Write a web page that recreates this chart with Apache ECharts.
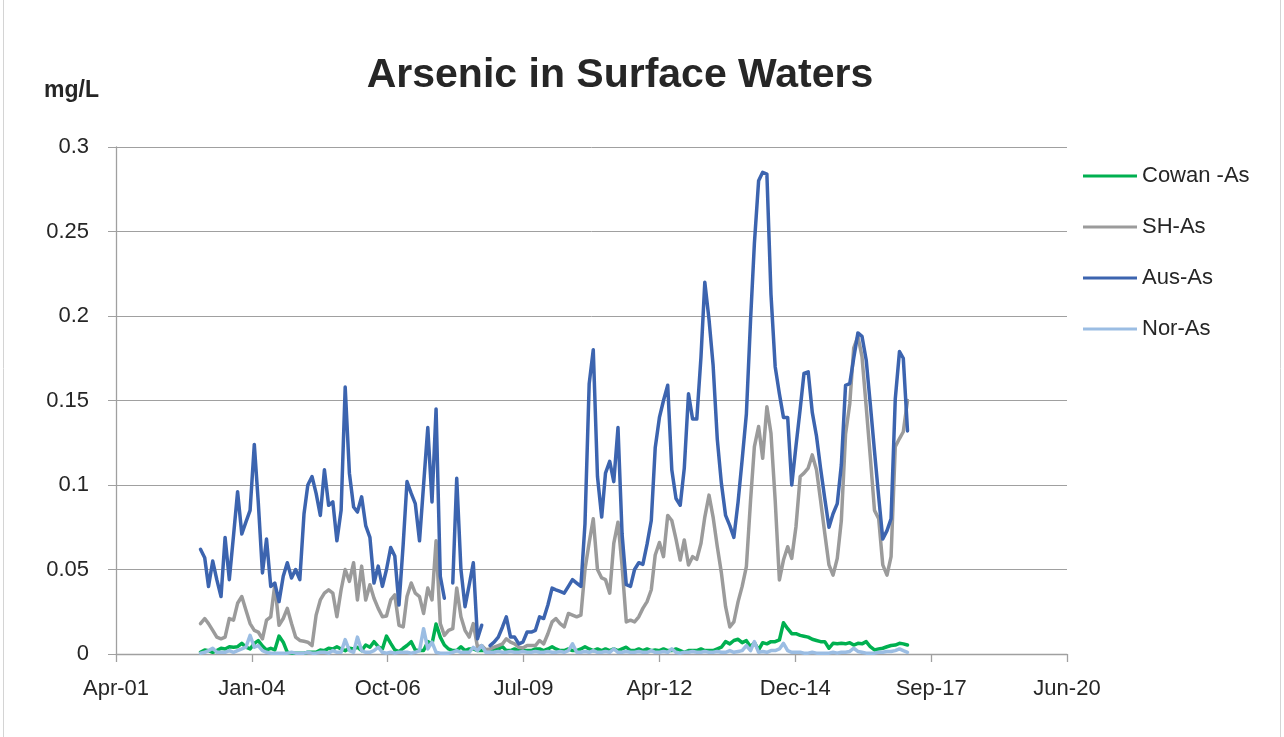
<!DOCTYPE html>
<html>
<head>
<meta charset="utf-8">
<script src="https://cdn.jsdelivr.net/npm/echarts@6/dist/echarts.min.js"></script>
<style>
html, body { margin: 0; padding: 0; background: #fff; }
#chart { width: 1284px; height: 737px; }
</style>
</head>
<body>
<div id="chart"></div>
<script>
// monthly samples, first one is Jan 2003
const startYear = 2003;

const cowan = [
  0.001, 0.0024, 0.002, 0.001, 0.002, 0.0034, 0.003, 0.0043, 0.004, 0.0043,
  0.0063, 0.004, 0.003, 0.0063, 0.0079, 0.0047, 0.0024, 0.0034, 0.0024, 0.0106,
  0.007, 0.001, 0.0005, 0.0005, 0.0005, 0.0005, 0.001, 0.001, 0.001, 0.0024,
  0.002, 0.0034, 0.003, 0.0043, 0.003, 0.002, 0.0034, 0.003, 0.004, 0.002,
  0.0053, 0.004, 0.0073, 0.0043, 0.003, 0.0106, 0.0063, 0.0024, 0.0014, 0.0034,
  0.005, 0.0073, 0.0024, 0.002, 0.002, 0.0073, 0.006, 0.0178, 0.010, 0.0053,
  0.003, 0.002, 0.002, 0.0043, 0.002, 0.003, 0.003, 0.002, 0.002, 0.002,
  0.002, 0.003, 0.003, 0.0043, 0.002, 0.002, 0.003, 0.002, 0.002, 0.002,
  0.002, 0.003, 0.003, 0.002, 0.003, 0.0043, 0.003, 0.002, 0.002, 0.003,
  0.002, 0.002, 0.003, 0.0043, 0.003, 0.002, 0.003, 0.002, 0.003, 0.002,
  0.003, 0.002, 0.003, 0.004, 0.002, 0.002, 0.003, 0.002, 0.003, 0.002,
  0.0024, 0.002, 0.003, 0.002, 0.002, 0.003, 0.002, 0.001, 0.002, 0.002,
  0.002, 0.003, 0.002, 0.002, 0.002, 0.003, 0.004, 0.0073, 0.006, 0.008,
  0.0087, 0.0067, 0.0079, 0.0043, 0.0067, 0.0024, 0.0067, 0.006, 0.0073, 0.0073,
  0.0083, 0.0185, 0.015, 0.012, 0.012, 0.011, 0.0105, 0.010, 0.0087, 0.008,
  0.0073, 0.0073, 0.0034, 0.0063, 0.006, 0.0063, 0.006, 0.0067, 0.0053, 0.0063,
  0.006, 0.0073, 0.0043, 0.0024, 0.003, 0.0034, 0.0043, 0.005, 0.0053, 0.0063,
  0.006, 0.0053
];

const sh = [
  0.018, 0.021, 0.018, 0.014, 0.010, 0.009, 0.010, 0.021, 0.020, 0.030,
  0.034, 0.026, 0.018, 0.014, 0.013, 0.009, 0.020, 0.022, 0.041, 0.017,
  0.021, 0.027, 0.018, 0.010, 0.008, 0.0075, 0.007, 0.005, 0.023, 0.032,
  0.036, 0.038, 0.036, 0.022, 0.038, 0.050, 0.043, 0.054, 0.032, 0.052,
  0.032, 0.041, 0.033, 0.027, 0.022, 0.0225, 0.032, 0.035, 0.017, 0.016,
  0.034, 0.042, 0.036, 0.034, 0.024, 0.039, 0.032, 0.067, 0.018, 0.011,
  0.014, 0.015, 0.039, 0.022, 0.014, 0.010, 0.018, 0.004, 0.005, 0.0025,
  0.003, 0.004, 0.005, 0.006, 0.009, 0.007, 0.006, 0.004, 0.0035, 0.005,
  0.005, 0.005, 0.008, 0.006, 0.012, 0.019, 0.021, 0.018, 0.016, 0.024,
  0.023, 0.022, 0.023, 0.050, 0.066, 0.080, 0.050, 0.045, 0.044, 0.036,
  0.0655, 0.078, 0.052, 0.019, 0.020, 0.019, 0.022, 0.027, 0.031, 0.038,
  0.0586, 0.066, 0.0576, 0.082, 0.079, 0.068, 0.0556, 0.0675, 0.0527, 0.0576,
  0.056, 0.0655, 0.081, 0.094, 0.081, 0.0635, 0.048, 0.028, 0.016, 0.019,
  0.031, 0.040, 0.0517, 0.091, 0.1227, 0.1346, 0.1158, 0.1463, 0.1306, 0.091,
  0.0438, 0.0556, 0.0635, 0.0566, 0.0753, 0.105, 0.107, 0.110, 0.1178, 0.109,
  0.091, 0.0714, 0.0527, 0.0467, 0.0566, 0.079, 0.130, 0.148, 0.181, 0.188,
  0.176, 0.1463, 0.1168, 0.085, 0.080, 0.0527, 0.0467, 0.0576, 0.1227, 0.1275,
  0.1315, 0.150
];

const aus = [
  0.062, 0.057, 0.040, 0.055, 0.044, 0.034, 0.069, 0.044, 0.070, 0.096,
  0.071, 0.078, 0.085, 0.124, 0.090, 0.048, 0.068, 0.040, 0.042, 0.031,
  0.046, 0.054, 0.045, 0.050, 0.044, 0.083, 0.100, 0.105, 0.095, 0.082,
  0.109, 0.088, 0.090, 0.067, 0.085, 0.158, 0.107, 0.087, 0.084, 0.093,
  0.076, 0.069, 0.042, 0.052, 0.040, 0.050, 0.063, 0.058, 0.029, 0.065,
  0.102, 0.095, 0.089, 0.067, 0.100, 0.134, 0.090, 0.145, 0.046, 0.033,
  null, 0.042, 0.104, 0.050, 0.028, 0.041, 0.054, 0.009, 0.017, null,
  0.005, 0.007, 0.010, 0.016, 0.022, 0.010, 0.010, 0.006, 0.007, 0.013,
  0.013, 0.014, 0.022, 0.021, 0.029, 0.039, 0.038, 0.037, 0.036, 0.040,
  0.044, 0.042, 0.040, 0.077, 0.160, 0.180, 0.105, 0.081, 0.107, 0.114,
  0.102, 0.134, 0.071, 0.041, 0.040, 0.050, 0.054, 0.053, 0.065, 0.079,
  0.122, 0.140, 0.150, 0.159, 0.109, 0.092, 0.088, 0.110, 0.154, 0.139,
  0.139, 0.176, 0.220, 0.198, 0.171, 0.127, 0.101, 0.082, 0.076, 0.069,
  0.090, 0.115, 0.142, 0.198, 0.243, 0.280, 0.285, 0.284, 0.213, 0.170,
  0.154, 0.140, 0.140, 0.100, 0.123, 0.145, 0.166, 0.167, 0.143, 0.129,
  0.110, 0.092, 0.075, 0.083, 0.089, 0.112, 0.159, 0.160, 0.175, 0.190,
  0.188, 0.174, 0.148, 0.120, 0.093, 0.068, 0.073, 0.080, 0.151, 0.179,
  0.175, 0.132
];

const nor = [
  0.0005, 0.001, 0.002, 0.0034, 0.001, 0.001, 0.001, 0.002, 0.001, 0.002,
  0.003, 0.004, 0.011, 0.004, 0.005, 0.002, 0.001, 0.0005, 0.0005, 0.0005,
  0.0005, 0.0005, 0.001, 0.0005, 0.0005, 0.0005, 0.001, 0.0005, 0.0005, 0.001,
  0.001, 0.0005, 0.002, 0.001, 0.001, 0.0085, 0.002, 0.001, 0.010, 0.002,
  0.001, 0.001, 0.002, 0.004, 0.001, 0.0005, 0.001, 0.0005, 0.001, 0.001,
  0.001, 0.0005, 0.001, 0.002, 0.015, 0.003, 0.007, 0.001, 0.0005, 0.0005,
  0.0005, 0.001, 0.002, 0.001, 0.001, 0.001, 0.004, 0.002, 0.005, 0.001,
  0.001, 0.001, 0.0015, 0.001, 0.001, 0.0015, 0.001, 0.001, 0.0015, 0.001,
  0.001, 0.0015, 0.001, 0.001, 0.0015, 0.001, 0.001, 0.0015, 0.001, 0.002,
  0.006, 0.001, 0.001, 0.0015, 0.001, 0.002, 0.001, 0.001, 0.0015, 0.001,
  0.003, 0.001, 0.001, 0.0015, 0.001, 0.001, 0.0015, 0.001, 0.001, 0.002,
  0.001, 0.001, 0.0015, 0.001, 0.003, 0.001, 0.0005, 0.001, 0.001, 0.0015,
  0.001, 0.001, 0.0015, 0.001, 0.001, 0.0015, 0.001, 0.001, 0.002, 0.001,
  0.0015, 0.002, 0.005, 0.002, 0.0073, 0.001, 0.0015, 0.001, 0.002, 0.002,
  0.003, 0.0063, 0.002, 0.001, 0.001, 0.001, 0.0005, 0.0005, 0.001, 0.0005,
  0.0005, 0.0005, 0.0005, 0.001, 0.0005, 0.001, 0.001, 0.0015, 0.0034, 0.0015,
  0.001, 0.0005, 0.0005, 0.0005, 0.001, 0.001, 0.0015, 0.0015, 0.002, 0.003,
  0.002, 0.001
];

const seriesNames = ['Cowan -As', 'SH-As', 'Aus-As', 'Nor-As'];
const seriesColors = ['#00b050', '#9b9b9b', '#3c64af', '#9bbde3'];
const monthNames = ['Jan', 'Feb', 'Mar', 'Apr', 'May', 'Jun', 'Jul', 'Aug', 'Sep', 'Oct', 'Nov', 'Dec'];

// x values are spreadsheet day numbers, like the original date axis
function excelDay(k) {
  return Date.UTC(startYear, k, 1) / 86400000 + 25569;
}
function toPairs(arr) {
  return arr.map((v, k) => [excelDay(k), v === null ? '-' : v]);
}
function dateLabel(v) {
  let d = new Date((v - 25569) * 86400000);
  return monthNames[d.getUTCMonth()] + '-' + String(d.getUTCFullYear() % 100).padStart(2, '0');
}

const font = '"Liberation Sans", Arial, sans-serif';
const textColor = '#262626';
const axisGray = '#a0a0a0';

let myChart = echarts.init(document.getElementById('chart'));

let options = {
  animation: false,
  title: {
    text: 'Arsenic in Surface Waters',
    left: 615,
    textAlign: 'center',
    top: 50,
    textStyle: { fontFamily: font, fontSize: 41, fontWeight: 'bold', color: textColor }
  },
  graphic: [
    {
      type: 'rect',
      shape: { x: 3.5, y: -5, width: 1277, height: 760 },
      style: { fill: 'none', stroke: '#d4d4d4', lineWidth: 1 },
      silent: true
    },
    {
      type: 'text',
      left: 44,
      top: 79,
      style: { text: 'mg/L', font: 'bold 23px ' + font, fill: textColor }
    }
  ],
  legend: {
    orient: 'vertical',
    left: 1083,
    top: 164,
    padding: 0,
    itemWidth: 54,
    itemHeight: 3,
    itemGap: 27,
    icon: 'rect',
    data: seriesNames,
    textStyle: { fontFamily: font, fontSize: 22, color: textColor, lineHeight: 24 }
  },
  grid: { left: 116, right: 217, top: 147, bottom: 83 },
  xAxis: {
    type: 'value',
    min: 37000,
    max: 44000,
    interval: 1000,
    axisLine: { lineStyle: { color: axisGray, width: 1.3 } },
    axisTick: { show: true, length: 8, lineStyle: { color: axisGray, width: 1.3 } },
    splitLine: { show: false },
    axisLabel: {
      margin: 24,
      formatter: dateLabel,
      fontFamily: font, fontSize: 22, color: textColor
    }
  },
  yAxis: {
    type: 'value',
    min: 0,
    max: 0.3,
    interval: 0.05,
    axisLine: { show: true, lineStyle: { color: axisGray, width: 1.3 } },
    axisTick: { show: true, length: 8, lineStyle: { color: axisGray, width: 1 } },
    splitLine: { lineStyle: { color: axisGray, width: 1 } },
    axisLabel: {
      margin: 27,
      formatter: (v) => String(Math.round(v * 100) / 100),
      fontFamily: font, fontSize: 22, color: textColor
    }
  },
  series: [cowan, sh, aus, nor].map((arr, i) => ({
    name: seriesNames[i],
    type: 'line',
    data: toPairs(arr),
    showSymbol: false,
    symbol: 'none',
    connectNulls: false,
    color: seriesColors[i],
    lineStyle: { width: 3.5, color: seriesColors[i], join: 'round', cap: 'round' }
  }))
};

myChart.setOption(options);
</script>
</body>
</html>
